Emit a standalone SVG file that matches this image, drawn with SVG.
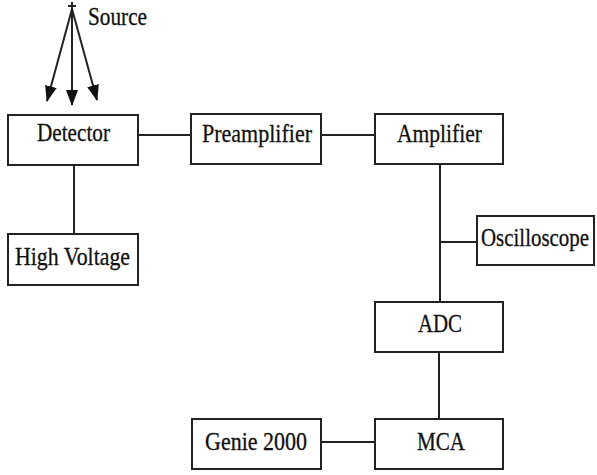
<svg xmlns="http://www.w3.org/2000/svg" width="597" height="475" viewBox="0 0 597 475">
  <style>
    .box { fill: #ffffff; stroke: #222222; stroke-width: 2; }
    .lbl { font-family: "Liberation Serif", "Times New Roman", serif; font-size: 26px; fill: #111111; stroke: #111111; stroke-width: 0.3; }
    .wire { stroke: #222222; stroke-width: 2; fill: none; }
  </style>
  <defs>
    <marker id="head" viewBox="0 0 16 12" refX="15" refY="6" markerWidth="16" markerHeight="12" markerUnits="userSpaceOnUse" orient="auto">
      <path d="M0,0 L16,6 L0,12 Z" fill="#111111"/>
    </marker>
  </defs>

  <rect width="597" height="475" fill="#ffffff"/>

  <!-- radiation source emitting towards the detector -->
  <g id="source">
    <path class="wire" d="M68,6 H76 M72,2 V11" stroke-width="1.5"/>
    <text class="lbl" x="88" y="25" textLength="59" lengthAdjust="spacingAndGlyphs">Source</text>
  </g>

  <g id="connectors">
    <line class="wire" x1="72" y1="9" x2="47" y2="101" marker-end="url(#head)"/>
    <line class="wire" x1="72" y1="9" x2="72" y2="105" marker-end="url(#head)"/>
    <line class="wire" x1="72" y1="9" x2="97" y2="100" marker-end="url(#head)"/>
    <line class="wire" x1="138" y1="135" x2="191" y2="135"/>
    <line class="wire" x1="321" y1="135" x2="375" y2="135"/>
    <line class="wire" x1="74" y1="165" x2="74" y2="234"/>
    <line class="wire" x1="440" y1="164" x2="440" y2="302"/>
    <line class="wire" x1="440" y1="242" x2="477" y2="242"/>
    <line class="wire" x1="439" y1="352" x2="439" y2="419"/>
    <line class="wire" x1="321" y1="442" x2="375" y2="442"/>
  </g>

  <g id="detector">
    <rect class="box" x="8" y="115" width="130" height="50"/>
    <text class="lbl" x="37" y="141" textLength="73" lengthAdjust="spacingAndGlyphs">Detector</text>
  </g>

  <g id="preamplifier">
    <rect class="box" x="191" y="114" width="130" height="50"/>
    <text class="lbl" x="202" y="142" textLength="110" lengthAdjust="spacingAndGlyphs">Preamplifier</text>
  </g>

  <g id="amplifier">
    <rect class="box" x="375" y="114" width="128" height="50"/>
    <text class="lbl" x="397" y="142" textLength="85" lengthAdjust="spacingAndGlyphs">Amplifier</text>
  </g>

  <g id="high-voltage">
    <rect class="box" x="8" y="234" width="130" height="51"/>
    <text class="lbl" x="15" y="265" textLength="115" lengthAdjust="spacingAndGlyphs">High Voltage</text>
  </g>

  <g id="oscilloscope">
    <rect class="box" x="477" y="216" width="117" height="49"/>
    <text class="lbl" x="481" y="246" textLength="108" lengthAdjust="spacingAndGlyphs">Oscilloscope</text>
  </g>

  <g id="adc">
    <rect class="box" x="375" y="302" width="128" height="50"/>
    <text class="lbl" x="418" y="332" textLength="44" lengthAdjust="spacingAndGlyphs">ADC</text>
  </g>

  <g id="genie-2000">
    <rect class="box" x="192" y="419" width="129" height="50"/>
    <text class="lbl" x="205" y="450" textLength="102" lengthAdjust="spacingAndGlyphs">Genie 2000</text>
  </g>

  <g id="mca">
    <rect class="box" x="375" y="419" width="128" height="50"/>
    <text class="lbl" x="417" y="450" textLength="48" lengthAdjust="spacingAndGlyphs">MCA</text>
  </g>
</svg>
